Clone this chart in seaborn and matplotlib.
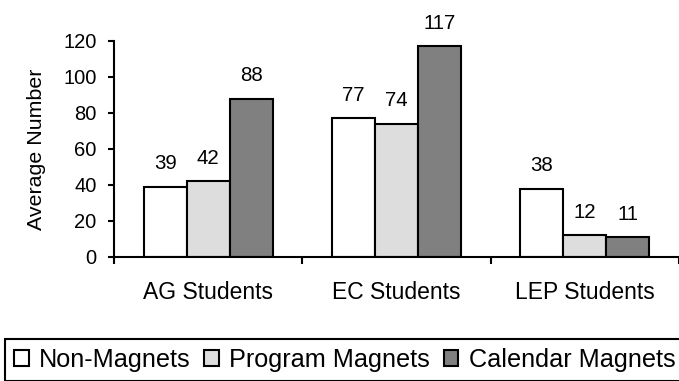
import pandas as pd
import seaborn as sns
import matplotlib.pyplot as plt

# datos del grafico
categorias = ["AG Students", "EC Students", "LEP Students"]
grupos = ["Non-Magnets", "Program Magnets", "Calendar Magnets"]
non_magnets = [39, 77, 38]
program_magnets = [42, 74, 12]
calendar_magnets = [88, 117, 11]
colores = ["#FFFFFF", "#DDDDDD", "#808080"]

filas = []
for i, cat in enumerate(categorias):
    for g, vals in zip(grupos, [non_magnets, program_magnets, calendar_magnets]):
        filas.append([cat, g, vals[i]])
df = pd.DataFrame(filas, columns=["Categoria", "Grupo", "Valor"])

sns.set_style("white")
plt.rcParams["font.family"] = ["Liberation Sans", "DejaVu Sans"]
for k in ["text.color", "axes.labelcolor", "xtick.color", "ytick.color"]:
    plt.rcParams[k] = "black"

fig = plt.figure(figsize=(6.79, 3.81), dpi=100)
ax = fig.add_axes([114 / 679, 1 - 257 / 381, 1 - 114 / 679, (257 - 41) / 381])

sns.barplot(data=df, x="Categoria", y="Valor", hue="Grupo", palette=colores,
            width=0.685, edgecolor="black", linewidth=1.5, saturation=1,
            ax=ax, legend=True)

for cont in ax.containers:
    for bar in cont:
        h = bar.get_height()
        ax.annotate(f"{h:.0f}", (bar.get_x() + bar.get_width() / 2, h),
                    xytext=(0, 9.7), textcoords="offset points",
                    ha="center", va="bottom", fontsize=14.7)

ax.set_ylim(0, 120)
ax.set_yticks(range(0, 121, 20))
ax.set_xlim(-0.5, 2.5)
ax.set_xticks([-0.5, 0.5, 1.5, 2.5])
ax.set_xticklabels([])
ax.set_xticks([0, 1, 2], minor=True)
ax.set_xticklabels(categorias, minor=True)
ax.tick_params(axis="x", which="major", direction="out", length=5, width=1.5,
               bottom=True, color="black")
ax.tick_params(axis="x", which="minor", length=0, pad=17, labelsize=16.5)
ax.tick_params(axis="y", direction="out", length=4, width=1.5, left=True,
               pad=8.5, labelsize=14.5, color="black")
ax.set_xlabel("")
ax.set_ylabel("Average Number", fontsize=15.4, labelpad=12.5)

for s in ["top", "right"]:
    ax.spines[s].set_visible(False)
for s in ["left", "bottom"]:
    ax.spines[s].set_color("black")
    ax.spines[s].set_linewidth(1.5)

handles, labels = ax.get_legend_handles_labels()
ax.get_legend().remove()
leg = fig.legend(handles, labels, loc="upper left", ncol=3, mode="expand",
                 bbox_to_anchor=(5 / 679, 0, 1.0, 1 - 339 / 381),
                 fontsize=18.2, frameon=True, fancybox=False, handlelength=0.58,
                 handleheight=0.6, handletextpad=0.4, columnspacing=0.45,
                 borderaxespad=0, borderpad=0.35, framealpha=1)
leg.get_frame().set_edgecolor("black")
leg.get_frame().set_linewidth(1.5)

fig.savefig("out.png", dpi=100)
